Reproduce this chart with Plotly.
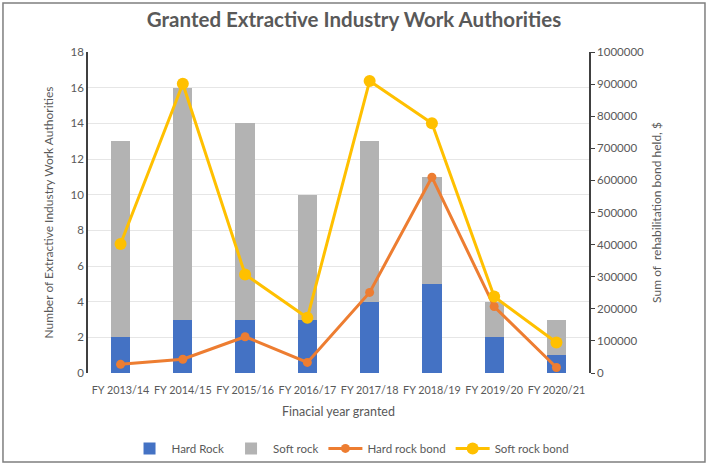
import plotly.graph_objects as go

# Financial years and counts of authorities
years = ["FY 2013/14", "FY 2014/15", "FY 2015/16", "FY 2016/17",
         "FY 2017/18", "FY 2018/19", "FY 2019/20", "FY 2020/21"]
hard_rock = [2, 3, 3, 3, 4, 5, 2, 1]
soft_rock = [11, 13, 11, 7, 9, 6, 2, 2]

# Rehabilitation bond held ($)
hard_rock_bond = [27000, 43000, 113000, 33000, 251000, 610000, 207000, 17000]
soft_rock_bond = [402000, 901000, 307000, 172000, 910000, 778000, 238000, 95000]

left_ticks = list(range(0, 19, 2))
right_ticks = list(range(0, 1000001, 100000))

grey_text = "#595959"
font_family = "Lato, 'Open Sans', sans-serif"

fig = go.Figure()

fig.add_trace(go.Bar(x=years, y=hard_rock, name="Hard Rock",
                     marker=dict(color="#4472C4", line=dict(width=0))))
fig.add_trace(go.Bar(x=years, y=soft_rock, name="Soft rock",
                     marker=dict(color="#B3B3B3", line=dict(width=0))))

fig.add_trace(go.Scatter(x=years, y=hard_rock_bond, name="Hard rock bond",
                         yaxis="y2", mode="lines+markers",
                         line=dict(color="#ED7D31", width=3),
                         marker=dict(size=9, color="#ED7D31")))
fig.add_trace(go.Scatter(x=years, y=soft_rock_bond, name="Soft rock bond",
                         yaxis="y2", mode="lines+markers",
                         line=dict(color="#FFC000", width=3),
                         marker=dict(size=12, color="#FFC000")))

fig.update_layout(
    width=708, height=465,
    barmode="stack", bargap=0.69,
    paper_bgcolor="white", plot_bgcolor="white",
    margin=dict(l=88, r=119, t=52, b=92, autoexpand=False),
    font=dict(family=font_family, size=11, color=grey_text),
    title=dict(text="<b>Granted Extractive Industry Work Authorities</b>",
               x=0.5, xanchor="center", y=0.957, yanchor="middle",
               font=dict(size=20.5, color=grey_text)),
    xaxis=dict(title=dict(text="Finacial year granted", font=dict(size=12.5),
                          standoff=12),
               showgrid=False, showline=False, tickangle=0,
               ticks="outside", ticklen=7, tickcolor="rgba(0,0,0,0)",
               automargin=False, tickfont=dict(size=10.8)),
    yaxis=dict(title=dict(text="Number of Extractive Industry Work Authorities",
                          font=dict(size=12), standoff=14),
               range=[0, 18], tickvals=left_ticks, automargin=False,
               showgrid=True, gridcolor="#E6E6E6", gridwidth=1,
               showline=True, linecolor="#404040", linewidth=1.5,
               zeroline=False, ticks="", tickfont=dict(size=11.5)),
    yaxis2=dict(title=dict(text="Sum of  rehabilitation bond held, $",
                           font=dict(size=12), standoff=10),
                overlaying="y", side="right", automargin=False,
                range=[0, 1000000], tickvals=right_ticks, tickformat="d",
                showgrid=False, showline=True, linecolor="#404040",
                linewidth=1.5, ticks="outside", ticklen=4,
                tickcolor="#404040", zeroline=False,
                tickfont=dict(size=11.5)),
    legend=dict(orientation="h", x=0.525, xanchor="center",
                y=-0.235, yanchor="middle", bgcolor="rgba(0,0,0,0)",
                font=dict(size=11.5), itemwidth=34,
                traceorder="normal"),
    shapes=[dict(type="rect", xref="paper", yref="paper",
                 x0=-0.1697, x1=1.2315, y0=-0.277, y1=1.1526,
                 line=dict(color="#7F7F7F", width=1.5),
                 fillcolor="rgba(0,0,0,0)", layer="below")],
)

fig.write_html("out.html", config={"displayModeBar": False},
               post_script="document.body.style.margin='0';"
                           "document.body.style.overflow='hidden';")
